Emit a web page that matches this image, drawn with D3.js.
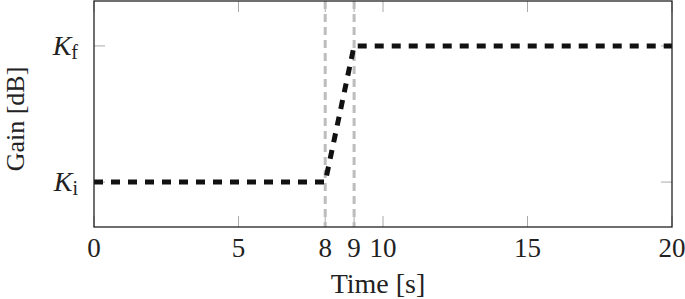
<!DOCTYPE html>
<html>
<head>
<meta charset="utf-8">
<script src="https://cdn.jsdelivr.net/npm/d3@7"></script>
<style>
  body { margin: 0; background: #fff; }
</style>
</head>
<body>
<div class="gain_chart"></div>
<script>
// gain profile: stays at Ki, ramps between 8 s and 9 s, then Kf
const timeS = [0, 8, 9, 20];
const gainLevel = [0, 0, 1, 1]; // 0 = Ki, 1 = Kf
const xTicks = [0, 5, 8, 9, 10, 15, 20];
const yTicks = [0, 1];
const yTickNames = [["K", "i"], ["K", "f"]];
const markerTimes = [8, 9];

const width = 685, height = 299;
const margin = { top: 1, right: 13, bottom: 72, left: 94 };
const serif = "'Liberation Serif'";

const x = d3.scaleLinear().domain([0, 20]).range([margin.left, width - margin.right]);
const y = d3.scaleLinear().domain([-0.33, 1.33]).range([height - margin.bottom, margin.top]);

const svg = d3.select(".gain_chart").append("svg")
  .attr("width", width)
  .attr("height", height);

// gray inward ticks on all sides
const tickLen = 11;
const ticks = svg.append("g").attr("stroke", "#aaa").attr("stroke-width", 1);
ticks.selectAll(".tb").data(xTicks).join("line")
  .attr("x1", d => x(d)).attr("x2", d => x(d))
  .attr("y1", y.range()[0]).attr("y2", y.range()[0] - tickLen);
ticks.selectAll(".tt").data(xTicks).join("line")
  .attr("x1", d => x(d)).attr("x2", d => x(d))
  .attr("y1", y.range()[1]).attr("y2", y.range()[1] + tickLen);
ticks.selectAll(".tl").data(yTicks).join("line")
  .attr("x1", x.range()[0]).attr("x2", x.range()[0] + tickLen)
  .attr("y1", d => y(d)).attr("y2", d => y(d));
ticks.selectAll(".tr").data(yTicks).join("line")
  .attr("x1", x.range()[1]).attr("x2", x.range()[1] - tickLen)
  .attr("y1", d => y(d)).attr("y2", d => y(d));

// vertical dashed markers
svg.append("g")
  .selectAll("line")
  .data(markerTimes)
  .join("line")
  .attr("x1", d => x(d)).attr("x2", d => x(d))
  .attr("y1", y.range()[1]).attr("y2", y.range()[0])
  .attr("stroke", "#bdbdbd")
  .attr("stroke-width", 3)
  .attr("stroke-dasharray", "8,5");

// gain curve
const line = d3.line().x((d, i) => x(timeS[i])).y((d, i) => y(gainLevel[i]));
svg.append("path")
  .attr("d", line(timeS))
  .attr("fill", "none")
  .attr("stroke", "#111")
  .attr("stroke-width", 5)
  .attr("stroke-dasharray", "9,8");

// frame
svg.append("rect")
  .attr("x", x.range()[0]).attr("y", y.range()[1])
  .attr("width", x.range()[1] - x.range()[0])
  .attr("height", y.range()[0] - y.range()[1])
  .attr("fill", "none")
  .attr("stroke", "#222")
  .attr("stroke-width", 1.3);

// x tick labels
svg.selectAll(".xl")
  .data(xTicks)
  .join("text")
  .attr("font-family", serif)
  .attr("font-size", 27)
  .attr("fill", "#222")
  .attr("text-anchor", "middle")
  .attr("x", d => x(d))
  .attr("y", 257)
  .text(d => d);

// y tick labels
const yl = svg.selectAll(".yl")
  .data(yTicks)
  .join("text")
  .attr("font-family", serif)
  .attr("font-size", 28)
  .attr("fill", "#222")
  .attr("text-anchor", "end")
  .attr("x", 78)
  .attr("y", d => y(d) + 9);
yl.append("tspan").attr("font-style", "italic").text((d, i) => yTickNames[i][0]);
yl.append("tspan").attr("font-size", 20).attr("dy", 4).text((d, i) => yTickNames[i][1]);

// axis titles
svg.append("text")
  .attr("font-family", serif)
  .attr("font-size", 28)
  .attr("fill", "#222")
  .attr("text-anchor", "middle")
  .attr("x", 378).attr("y", 293)
  .text("Time [s]");

svg.append("text")
  .attr("font-family", serif)
  .attr("font-size", 26)
  .attr("fill", "#222")
  .attr("text-anchor", "middle")
  .attr("transform", `translate(24,119) rotate(-90)`)
  .text("Gain [dB]");
</script>
</body>
</html>
